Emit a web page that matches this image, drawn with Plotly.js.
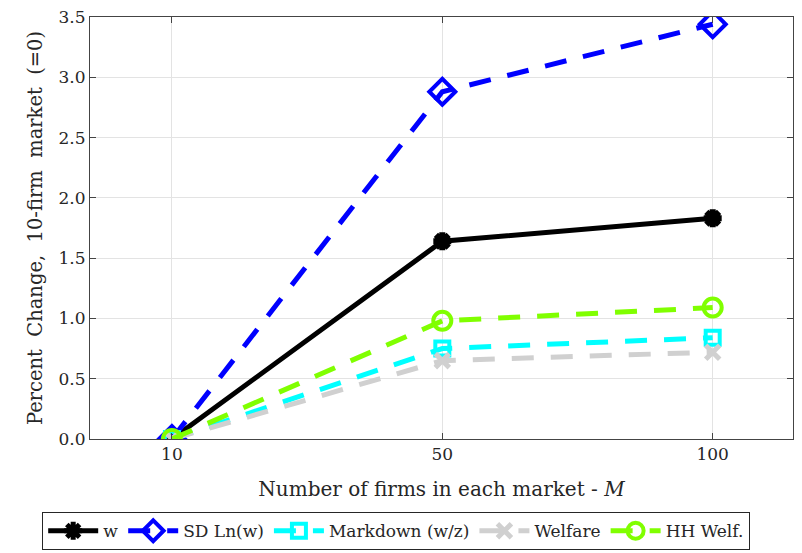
<!DOCTYPE html>
<html>
<head>
<meta charset="utf-8">
<script src="https://cdn.plot.ly/plotly-3.0.1.min.js"></script>
<style>html,body{margin:0;padding:0;background:#fff;}#chart{width:802px;height:553px;}</style>
</head>
<body>
<div id="chart"></div>
<script>
var categories = ["10", "50", "100"];
var wVals = [0, 1.64, 1.83];
var sdVals = [0, 2.88, 3.44];
var markdownVals = [0, 0.75, 0.84];
var welfareVals = [0, 0.65, 0.72];
var hhVals = [0, 0.98, 1.09];
var yTicks = [0, 0.5, 1.0, 1.5, 2.0, 2.5, 3.0, 3.5];
var yTickText = ["0.0", "0.5", "1.0", "1.5", "2.0", "2.5", "3.0", "3.5"];

var FONT = "DejaVu Serif";
var DASH = "22px,17px";

var traces = [
  {x: categories, y: wVals, name: "w", mode: "lines+markers",
   line: {color: "#000000", width: 5},
   marker: {symbol: "asterisk-open", size: 15, color: "#000000", line: {color: "#000000", width: 6}}},
  {x: categories, y: sdVals, name: "SD Ln(w)", mode: "lines+markers",
   line: {color: "#0000ff", width: 5, dash: DASH},
   marker: {symbol: "diamond-open", size: 20, color: "#0000ff", line: {color: "#0000ff", width: 4}}},
  {x: categories, y: markdownVals, name: "Markdown (w/z)", mode: "lines+markers",
   line: {color: "#00ffff", width: 5, dash: DASH},
   marker: {symbol: "square-open", size: 14, color: "#00ffff", line: {color: "#00ffff", width: 4}}},
  {x: categories, y: welfareVals, name: "Welfare", mode: "lines+markers",
   line: {color: "#d0d0d0", width: 5, dash: DASH},
   marker: {symbol: "x-thin-open", size: 14, color: "#d0d0d0", line: {color: "#d0d0d0", width: 5}}},
  {x: categories, y: hhVals, name: "HH Welf.", mode: "lines+markers",
   line: {color: "#80ff00", width: 5, dash: DASH},
   marker: {symbol: "circle-open", size: 18, color: "#80ff00", line: {color: "#80ff00", width: 4}}}
];

var layout = {
  width: 802, height: 553,
  margin: {l: 90, r: 9, t: 17, b: 114},
  paper_bgcolor: "#ffffff", plot_bgcolor: "#ffffff",
  font: {family: FONT, size: 17, color: "#262626"},
  showlegend: true,
  xaxis: {
    type: "category", range: [-0.303, 2.297], automargin: false,
    showgrid: true, gridcolor: "#e3e3e3", gridwidth: 1,
    showline: true, linecolor: "#444444", linewidth: 1, mirror: "ticks",
    ticks: "inside", ticklen: 6, tickcolor: "#444444",
    tickfont: {family: FONT, size: 17, color: "#262626"},
    title: {text: "Number of firms in each market - <i>M</i>", font: {family: FONT, size: 20, color: "#262626"}, standoff: 18},
    zeroline: false
  },
  yaxis: {
    range: [0, 3.5], tickvals: yTicks, ticktext: yTickText, automargin: false,
    showgrid: true, gridcolor: "#e3e3e3", gridwidth: 1,
    showline: true, linecolor: "#444444", linewidth: 1, mirror: "ticks",
    ticks: "inside", ticklen: 6, tickcolor: "#444444",
    tickfont: {family: FONT, size: 17, color: "#262626"},
    title: {text: "Percent  Change,  10-firm  market  (=0)", font: {family: FONT, size: 19.5, color: "#262626"}, standoff: 10},
    zeroline: false
  },
  legend: {
    orientation: "h", xref: "container", yref: "container",
    x: 0.494, xanchor: "center", y: 0.005, yanchor: "bottom",
    bordercolor: "#262626", borderwidth: 1, bgcolor: "#ffffff",
    font: {family: FONT, size: 17, color: "#262626"},
    itemwidth: 50, tracegroupgap: 0
  }
};

Plotly.newPlot("chart", traces, layout, {displayModeBar: false, staticPlot: true});
</script>
</body>
</html>
